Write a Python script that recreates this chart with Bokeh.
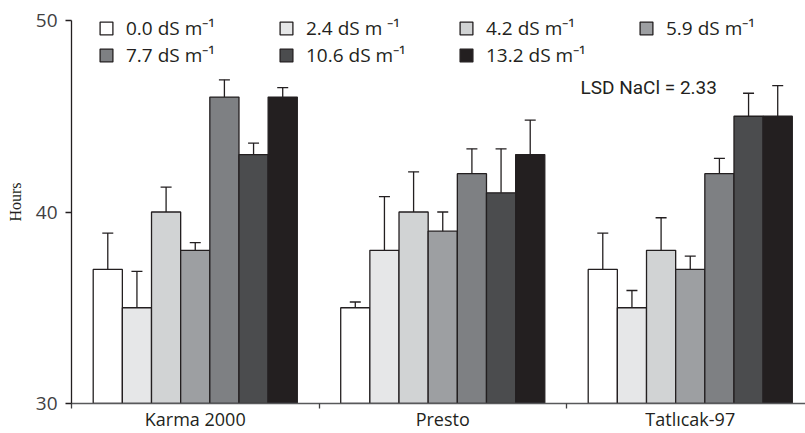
from bokeh.plotting import figure
from bokeh.models import (Range1d, FixedTicker, Legend, LegendItem, Label,
                          Whisker, TeeHead, ColumnDataSource)
from bokeh.embed import file_html
from bokeh.resources import INLINE

cultivars = ["Karma 2000", "Presto", "Tatlıcak-97"]
levels = ["0.0 dS m⁻¹", "2.4 dS m ⁻¹", "4.2 dS m⁻¹", "5.9 dS m⁻¹",
          "7.7 dS m⁻¹", "10.6 dS m⁻¹", "13.2 dS m⁻¹"]
karma = [37, 35, 40, 38, 46, 43, 46]
karma_err = [1.9, 1.9, 1.3, 0.4, 0.9, 0.6, 0.5]
presto = [35, 38, 40, 39, 42, 41, 43]
presto_err = [0.3, 2.8, 2.1, 1.0, 1.3, 2.3, 1.8]
tatlicak = [37, 35, 38, 37, 42, 45, 45]
tatlicak_err = [1.9, 0.9, 1.7, 0.7, 0.8, 1.2, 1.6]
y_ticks = [30, 40, 50]
lsd_text = "LSD NaCl = 2.33"

colors = ["#ffffff", "#e6e7e8", "#d1d3d4", "#9d9fa2", "#7e8083", "#4b4c4e", "#231f20"]
ink = "#231f20"
font = "Open Sans"

W, H = 805, 433
L, B = 71, 30
y_top = 30 + 20 * (H - B) / 383.0
p = figure(width=W, height=H, output_backend="svg", toolbar_location=None,
           x_range=Range1d(0, (W - L) / 247.5), y_range=Range1d(30, y_top),
           min_border_left=L, min_border_right=0, min_border_top=0,
           min_border_bottom=B)
p.outline_line_color = None
p.grid.visible = False
p.background_fill_color = "white"

bw = 0.1178
series = [karma, presto, tatlicak]
errs = [karma_err, presto_err, tatlicak_err]
renderers = []
for j, lab in enumerate(levels):
    xs = [i + 0.5 + (j - 3) * bw for i in range(len(cultivars))]
    tops = [s[j] for s in series]
    uppers = [s[j] + e[j] for s, e in zip(series, errs)]
    src = ColumnDataSource(dict(x=xs, top=tops, upper=uppers))
    r = p.vbar(x="x", top="top", bottom=30, width=bw, source=src,
               fill_color=colors[j], line_color=ink, line_width=1.3)
    renderers.append(r)
    w = Whisker(base="x", lower="top", upper="upper", source=src,
                line_color=ink, line_width=1.3,
                upper_head=TeeHead(size=11, line_color=ink, line_width=1.3),
                lower_head=None, level="overlay")
    p.add_layout(w)

# axes
ya = p.yaxis[0]
ya.ticker = FixedTicker(ticks=y_ticks, minor_ticks=[])
ya.bounds = (30, 50)
ya.axis_label = "Hours"
ya.axis_label_text_font = "Liberation Serif"
ya.axis_label_text_font_style = "normal"
ya.axis_label_text_font_size = "16px"
ya.axis_label_text_color = ink
ya.axis_label_standoff = 9
ya.major_label_text_font = font
ya.major_label_text_font_size = "19px"
ya.major_label_text_color = "#414042"
ya.major_label_standoff = 8
ya.major_tick_in = 0
ya.major_tick_out = 6
ya.major_tick_line_color = ink
ya.major_tick_line_width = 1.3
ya.axis_line_color = ink
ya.axis_line_width = 1.3

xa = p.xaxis[0]
xa.ticker = FixedTicker(ticks=[0.5, 1.5, 2.5], minor_ticks=[0, 1, 2])
xa.major_label_overrides = {0.5: cultivars[0], 1.5: cultivars[1], 2.5: cultivars[2]}
xa.major_label_text_font = font
xa.major_label_text_font_size = "18px"
xa.major_label_text_color = ink
xa.major_label_standoff = -2
xa.major_tick_line_color = None
xa.major_tick_in = 0
xa.major_tick_out = 0
xa.minor_tick_in = 0
xa.minor_tick_out = 5
xa.minor_tick_line_color = "#414042"
xa.minor_tick_line_width = 1.3
xa.axis_line_color = "#58595b"
xa.axis_line_width = 1.5

rows = [(0, 4, 362), (4, 7, 335)]
for a, b, vy in rows:
    legend = Legend(items=[LegendItem(label=levels[k], renderers=[renderers[k]]) for k in range(a, b)],
                    orientation="horizontal", location=(27, vy),
                    glyph_width=16, glyph_height=16, label_standoff=12,
                    label_width=144, spacing=8, padding=0, margin=0,
                    border_line_color=None, background_fill_alpha=0,
                    label_text_font=font, label_text_font_size="19px",
                    label_text_color=ink)
    p.add_layout(legend, "center")

p.add_layout(Label(x=(580 - L) / 247.5, y=46.52, text=lsd_text,
                   text_font="Roboto", text_font_size="19px",
                   text_baseline="middle", text_color=ink))

open("out.html", "w").write(file_html(p, INLINE))
